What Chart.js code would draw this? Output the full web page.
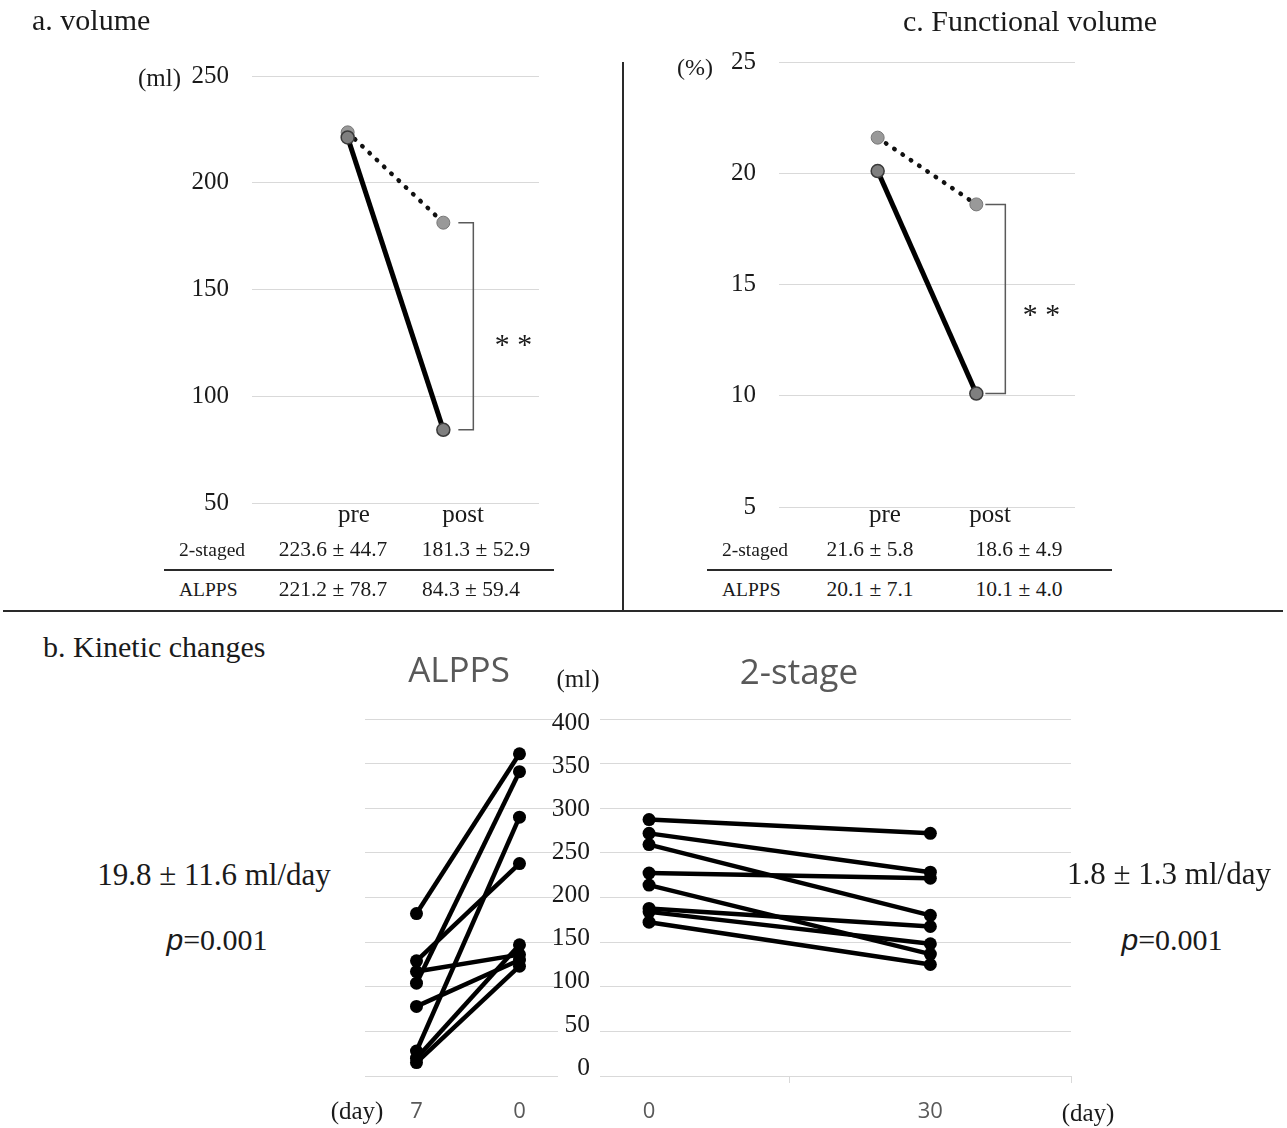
<!DOCTYPE html>
<html>
<head>
<meta charset="utf-8">
<script src="https://cdn.jsdelivr.net/npm/chart.js@4.4.1/dist/chart.umd.min.js"></script>
<style>
html, body { margin: 0; padding: 0; background: #fff; }
body { width: 1287px; height: 1128px; position: relative; overflow: hidden;
       font-family: 'Liberation Serif', 'Times New Roman', serif; color: #1a1a1a; }
canvas { position: absolute; }
.t { position: absolute; white-space: nowrap; line-height: 1; transform: translate(-50%, -50%); }
.l { position: absolute; white-space: nowrap; line-height: 1; transform: translateY(-50%); }
.sans { font-family: 'Open Sans', sans-serif; color: #595959; }
.rule { position: absolute; background: #2a2a2a; }
.p { font-family: 'Liberation Sans', Arial, sans-serif; font-style: italic; }
.star { font-size: 30px; font-style: italic; }
</style>
</head>
<body>

<canvas id="volA" width="600" height="560" style="left:0;top:0"></canvas>
<canvas id="volC" width="640" height="560" style="left:620px;top:0"></canvas>
<canvas id="kinAlpps" width="270" height="440" style="left:340px;top:690px"></canvas>
<canvas id="kinStage" width="560" height="440" style="left:540px;top:690px"></canvas>

<!-- titles -->
<div class="l" style="left:32px;top:20px;font-size:30px">a. volume</div>
<div class="l" style="left:903px;top:21px;font-size:30px">c. Functional volume</div>
<div class="l" style="left:43px;top:647px;font-size:30px">b. Kinetic changes</div>

<!-- panel a -->
<div class="l" style="left:138px;top:77px;font-size:25px">(ml)</div>
<div class="t" style="left:354px;top:513px;font-size:25px">pre</div>
<div class="t" style="left:463px;top:513px;font-size:25px">post</div>
<div class="t star" style="left:512px;top:344px">*&nbsp;*</div>
<div class="l" style="left:179px;top:550px;font-size:19.5px">2-staged</div>
<div class="t" style="left:333px;top:550px;font-size:21.5px">223.6 ± 44.7</div>
<div class="t" style="left:476px;top:550px;font-size:21.5px">181.3 ± 52.9</div>
<div class="rule" style="left:164px;top:569px;width:390px;height:2px"></div>
<div class="l" style="left:179px;top:590px;font-size:19.5px">ALPPS</div>
<div class="t" style="left:333px;top:590px;font-size:21.5px">221.2 ± 78.7</div>
<div class="t" style="left:471px;top:590px;font-size:21.5px">84.3 ± 59.4</div>

<!-- panel c -->
<div class="l" style="left:677px;top:67px;font-size:24px">(%)</div>
<div class="t" style="left:885px;top:513px;font-size:25px">pre</div>
<div class="t" style="left:990px;top:513px;font-size:25px">post</div>
<div class="t star" style="left:1040px;top:314px">*&nbsp;*</div>
<div class="l" style="left:722px;top:550px;font-size:19.5px">2-staged</div>
<div class="t" style="left:870px;top:550px;font-size:21.5px">21.6 ± 5.8</div>
<div class="t" style="left:1019px;top:550px;font-size:21.5px">18.6 ± 4.9</div>
<div class="rule" style="left:707px;top:569px;width:405px;height:2px"></div>
<div class="l" style="left:722px;top:590px;font-size:19.5px">ALPPS</div>
<div class="t" style="left:870px;top:590px;font-size:21.5px">20.1 ± 7.1</div>
<div class="t" style="left:1019px;top:590px;font-size:21.5px">10.1 ± 4.0</div>

<!-- dividers -->
<div class="rule" style="left:622px;top:62px;width:2px;height:549px"></div>
<div class="rule" style="left:3px;top:610px;width:1280px;height:2px"></div>

<!-- panel b -->
<div class="t sans" style="left:459px;top:668px;font-size:35px">ALPPS</div>
<div class="t sans" style="left:799px;top:670px;font-size:35px">2-stage</div>
<div class="t" style="left:578px;top:678px;font-size:25px">(ml)</div>
<div class="t" style="left:357px;top:1110px;font-size:25px">(day)</div>
<div class="t" style="left:1088px;top:1112px;font-size:25px">(day)</div>
<div class="t" style="left:214px;top:874px;font-size:31px">19.8 ± 11.6 ml/day</div>
<div class="t" style="left:217px;top:940px;font-size:30px"><span class="p">p</span>=0.001</div>
<div class="t" style="left:1169px;top:873px;font-size:31px">1.8 ± 1.3 ml/day</div>
<div class="t" style="left:1172px;top:940px;font-size:30px"><span class="p">p</span>=0.001</div>

<script>
// a. volume (ml)
const phases = ['pre', 'post'];
const volume2Staged = [223.6, 181.3];
const volumeAlpps = [221.2, 84.3];
const volumeTicks = [50, 100, 150, 200, 250];

// c. functional volume (%)
const funcVolume2Staged = [21.6, 18.6];
const funcVolumeAlpps = [20.1, 10.1];
const funcVolumeTicks = [5, 10, 15, 20, 25];

// b. kinetic changes (ml), one entry per patient
const alppsDayLabels = ['7', '0'];
const alppsDay7 = [182, 129, 117, 104, 78, 28, 20, 15];
const alppsDay0 = [361, 238, 136, 341, 130, 290, 147, 123];

const stageDayLabels = ['0', '30'];
const stageDay0 = [288, 272, 259, 226, 212, 185, 181, 169];
const stageDay30 = [272, 227, 177, 220, 132, 164, 144, 120];

const kineticTicks = [0, 50, 100, 150, 200, 250, 300, 350, 400];

Chart.defaults.font.family = "'Liberation Serif', 'Times New Roman', serif";
Chart.defaults.color = '#1a1a1a';
Chart.defaults.animation = false;
Chart.defaults.plugins.legend.display = false;
Chart.defaults.plugins.tooltip.enabled = false;

const GRID = '#d9d9d9';

const setTicks = list => s => { s.ticks = list.map(v => ({ value: v })); };

// significance bracket next to the "post" points
const bracketPlugin = {
    id: 'bracket',
    afterDatasetsDraw(chart, args, opts) {
        const { ctx, scales: { x, y } } = chart;
        const px = x.getPixelForValue(2);
        const yTop = y.getPixelForValue(opts.from);
        const yBot = y.getPixelForValue(opts.to);
        ctx.save();
        ctx.strokeStyle = '#5a5a5a';
        ctx.lineWidth = 1.5;
        ctx.beginPath();
        ctx.moveTo(px + opts.gap, yTop);
        ctx.lineTo(px + opts.reach, yTop);
        ctx.lineTo(px + opts.reach, yBot);
        ctx.lineTo(px + opts.gap, yBot);
        ctx.stroke();
        ctx.restore();
    }
};

function toPoints(values) {
    return phases.map((p, i) => ({ x: i + 1, y: values[i] }));
}

function prePostChart(id, alpps, staged, ticks, yWidth, padding, bracket) {
    new Chart(document.getElementById(id), {
        type: 'line',
        data: {
            datasets: [{
                data: toPoints(alpps),
                borderColor: '#000',
                borderWidth: 5,
                pointRadius: 6.5,
                pointBackgroundColor: '#7f7f7f',
                pointBorderColor: '#3a3a3a',
                pointBorderWidth: 1.5
            }, {
                data: toPoints(staged),
                borderColor: '#111',
                borderWidth: 4.5,
                borderDash: [0.5, 9.5],
                borderCapStyle: 'round',
                pointRadius: 6.5,
                pointBackgroundColor: '#999',
                pointBorderColor: '#777',
                pointBorderWidth: 1
            }]
        },
        options: {
            responsive: false,
            layout: { padding: padding },
            scales: {
                x: { type: 'linear', min: 0, max: 3, display: false },
                y: {
                    min: ticks[0],
                    max: ticks[ticks.length - 1],
                    afterBuildTicks: setTicks(ticks),
                    afterFit: s => { s.width = yWidth; },
                    grid: { color: GRID, drawTicks: false },
                    border: { display: false },
                    ticks: { padding: 23, font: { size: 25 }, color: '#1a1a1a' }
                }
            },
            plugins: { bracket: bracket }
        },
        plugins: [bracketPlugin]
    });
}

prePostChart('volA', volumeAlpps, volume2Staged, volumeTicks, 252,
    { top: 76, right: 61, bottom: 57, left: 0 },
    { from: volume2Staged[1], to: volumeAlpps[1], gap: 15, reach: 30 });

prePostChart('volC', funcVolumeAlpps, funcVolume2Staged, funcVolumeTicks, 159,
    { top: 62, right: 185, bottom: 53, left: 0 },
    { from: funcVolume2Staged[1], to: funcVolumeAlpps[1], gap: 9, reach: 29 });

function patientLines(first, second) {
    return first.map((v, i) => ({
        data: [{ x: 0.5, y: v }, { x: 1.5, y: second[i] }],
        borderColor: '#000',
        borderWidth: 4.5,
        pointRadius: 6.5,
        pointBackgroundColor: '#000',
        pointBorderWidth: 0
    }));
}

const kineticGrid = {
    min: 0,
    max: 400,
    afterBuildTicks: setTicks(kineticTicks),
    afterFit: s => { s.width = 0; },
    ticks: { display: false },
    grid: { color: GRID, drawTicks: false },
    border: { display: false }
};

// ALPPS: day 7 -> day 0
new Chart(document.getElementById('kinAlpps'), {
    type: 'line',
    data: { datasets: patientLines(alppsDay7, alppsDay0) },
    options: {
        responsive: false,
        layout: { padding: { top: 29, right: 52, bottom: 0, left: 25 } },
        scales: {
            x: {
                type: 'linear',
                min: 0,
                max: 1.874,
                afterBuildTicks: setTicks([0.5, 1.5]),
                afterFit: s => { s.height = 54; },
                grid: { display: false },
                border: { display: false },
                ticks: {
                    padding: 15,
                    color: '#595959',
                    font: { family: "'Open Sans', sans-serif", size: 22 },
                    callback: v => alppsDayLabels[Math.floor(v)]
                }
            },
            y: kineticGrid
        }
    }
});

// 2-stage: day 0 -> day 30, carries the shared ml labels
new Chart(document.getElementById('kinStage'), {
    type: 'line',
    data: { datasets: patientLines(stageDay0, stageDay30) },
    options: {
        responsive: false,
        layout: { padding: { top: 29, right: 29, bottom: 0, left: 0 } },
        scales: {
            x: {
                type: 'linear',
                min: 0.3256,
                max: 2,
                afterBuildTicks: setTicks([0.5, 1, 1.5, 2]),
                afterFit: s => { s.height = 54; },
                grid: {
                    drawOnChartArea: false,
                    tickLength: 7,
                    color: c => (c.tick && c.tick.value % 1 === 0) ? GRID : 'rgba(0,0,0,0)'
                },
                border: { display: false },
                ticks: {
                    padding: 16,
                    color: '#595959',
                    font: { family: "'Open Sans', sans-serif", size: 22 },
                    callback: v => (v % 1 === 0.5) ? stageDayLabels[Math.floor(v)] : ''
                }
            },
            yl: {
                position: 'left',
                min: -9.3,
                max: 404.6,
                afterBuildTicks: setTicks(kineticTicks),
                afterFit: s => { s.width = 60; },
                grid: { display: false },
                border: { display: false },
                ticks: { padding: 2, font: { size: 25.5 }, color: '#1a1a1a' }
            },
            y: kineticGrid
        }
    }
});
</script>
</body>
</html>
